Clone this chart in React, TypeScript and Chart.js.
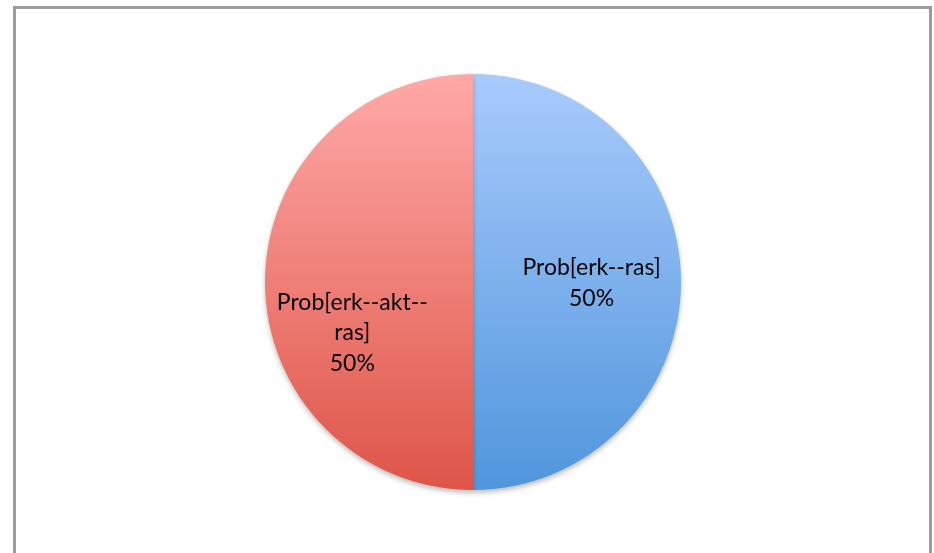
import React, { useEffect, useRef } from "react";
import { Chart, registerables } from "chart.js";

Chart.register(...registerables);

// Pathway probabilities
const categories = ["Prob[erk--ras]", "Prob[erk--akt--ras]"];
const values = [50, 50];

// Vertical gradient stops per slice: [top, bottom]
const gradientStops = [
  ["#A9CBFC", "#5096DC"],
  ["#FFA9A7", "#DE5548"],
];

const FONT = "23px Lato, 'Open Sans', sans-serif";

// Splits a label on "--" boundaries so each line fits in maxWidth
function wrapLabel(ctx: CanvasRenderingContext2D, text: string, maxWidth: number): string[] {
  if (ctx.measureText(text).width <= maxWidth) return [text];
  const parts = text.split(/(?<=--)/);
  const lines: string[] = [];
  let cur = "";
  for (const p of parts) {
    if (cur && ctx.measureText(cur + p).width > maxWidth) {
      lines.push(cur);
      cur = p;
    } else {
      cur += p;
    }
  }
  if (cur) lines.push(cur);
  return lines;
}

const sliceShadow = {
  id: "sliceShadow",
  beforeDatasetsDraw(chart: any) {
    const ctx = chart.ctx;
    ctx.save();
    ctx.shadowColor = "rgba(0,0,0,0.25)";
    ctx.shadowBlur = 5;
    ctx.shadowOffsetY = 3;
  },
  afterDatasetsDraw(chart: any) {
    chart.ctx.restore();
  },
};

const sliceLabels = {
  id: "sliceLabels",
  afterDatasetsDraw(chart: any, _args: any, opts: any) {
    const ctx = chart.ctx;
    const meta = chart.getDatasetMeta(0);
    const data = chart.data.datasets[0].data as number[];
    const total = data.reduce((a, b) => a + b, 0);
    ctx.save();
    ctx.font = FONT;
    ctx.fillStyle = "#000";
    ctx.textAlign = "center";
    ctx.textBaseline = "middle";
    meta.data.forEach((arc: any, i: number) => {
      const { x, y, startAngle, endAngle, outerRadius } = arc.getProps(
        ["x", "y", "startAngle", "endAngle", "outerRadius"],
        true
      );
      const mid = (startAngle + endAngle) / 2 + (opts.angleShift[i] || 0);
      const r = outerRadius * opts.radiusFactor[i];
      const cx = x + Math.cos(mid) * r;
      const cy = y + Math.sin(mid) * r;
      const lines = wrapLabel(ctx, chart.data.labels[i], opts.maxWidth);
      lines.push(Math.round((data[i] / total) * 100) + "%");
      const lh = opts.lineHeight;
      const y0 = cy - ((lines.length - 1) * lh) / 2;
      lines.forEach((ln, k) => ctx.fillText(ln, cx, y0 + k * lh));
    });
    ctx.restore();
  },
};

export default function App() {
  const canvasRef = useRef<HTMLCanvasElement>(null);

  useEffect(() => {
    const canvas = canvasRef.current!;
    const chart = new Chart(canvas, {
      type: "pie",
      data: {
        labels: categories,
        datasets: [
          {
            data: values,
            borderWidth: 0,
            backgroundColor: (c: any) => {
              const ch = c.chart;
              const area = ch.chartArea;
              if (!area) return gradientStops[c.dataIndex][1];
              const g = ch.ctx.createLinearGradient(0, area.top, 0, area.bottom);
              g.addColorStop(0, gradientStops[c.dataIndex][0]);
              g.addColorStop(1, gradientStops[c.dataIndex][1]);
              return g;
            },
          },
        ],
      },
      options: {
        responsive: false,
        animation: false,
        layout: { padding: { top: 74, bottom: 63, left: 265, right: 253 } },
        plugins: {
          legend: { display: false },
          tooltip: { enabled: false },
          sliceLabels: {
            radiusFactor: [0.57, 0.63],
            angleShift: [0.01, -0.4],
            maxWidth: 178,
            lineHeight: 30.5,
          },
        } as any,
      },
      plugins: [sliceShadow, sliceLabels],
    });
    return () => chart.destroy();
  }, []);

  return (
    <div style={{ position: "fixed", left: 0, top: 0, width: 934, height: 553, background: "#fff", overflow: "hidden" }}>
      <div
        style={{
          position: "absolute",
          left: 13,
          top: 6,
          width: 913,
          height: 600,
          border: "3px solid #9c9c9c",
        }}
      />
      <canvas ref={canvasRef} width={934} height={553} style={{ position: "absolute", left: 0, top: 0 }} />
    </div>
  );
}
